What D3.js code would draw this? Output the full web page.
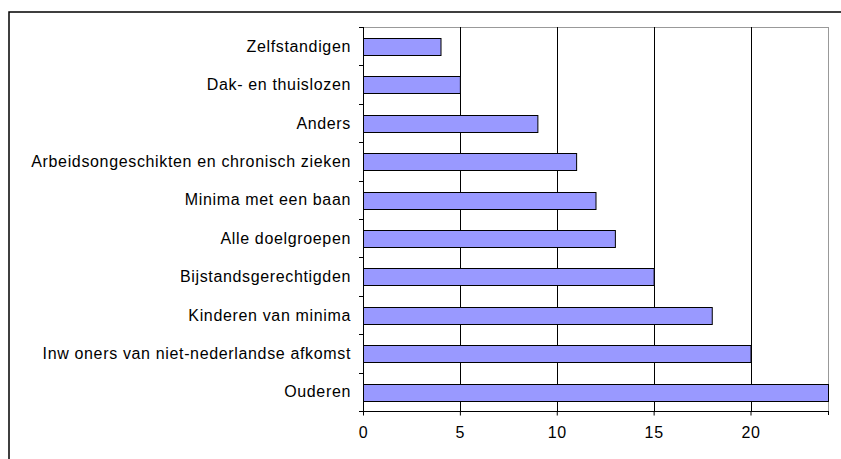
<!DOCTYPE html>
<html>
<head>
<meta charset="utf-8">
<script src="https://cdn.jsdelivr.net/npm/d3@7"></script>
<style>
  body { margin: 0; background: #fff; }
  text { font-family: Arial, "Liberation Sans", sans-serif; font-size: 16px; letter-spacing: 0.65px; fill: #000; }
</style>
</head>
<body>
<div id="chart"></div>
<script>
// categories top to bottom
var categories = ["Zelfstandigen", "Dak- en thuislozen", "Anders",
  "Arbeidsongeschikten en chronisch zieken", "Minima met een baan",
  "Alle doelgroepen", "Bijstandsgerechtigden", "Kinderen van minima",
  "Inw oners van niet-nederlandse afkomst", "Ouderen"];
var values = [4, 5, 9, 11, 12, 13, 15, 18, 20, 24];
var xTicks = [0, 5, 10, 15, 20];

var width = 841, height = 459;
var plotLeft = 363, plotRight = 828, plotTop = 27, plotBottom = 411;

var svg = d3.select("#chart").append("svg")
  .attr("width", width)
  .attr("height", height);

// outer frame, runs off the right and bottom edge
svg.append("rect")
  .attr("x", 9).attr("y", 12)
  .attr("width", 840).attr("height", 460)
  .attr("fill", "none").attr("stroke", "#000").attr("stroke-width", 1.5);

var x = d3.scaleLinear().domain([0, 24]).range([plotLeft, plotRight]);
var y = d3.scaleBand().domain(categories).range([plotTop, plotBottom]).paddingInner(0.57).paddingOuter(0.285);

// plot area border (gray)
svg.append("rect")
  .attr("x", plotLeft + 0.5).attr("y", plotTop + 0.5)
  .attr("width", plotRight - plotLeft).attr("height", plotBottom - plotTop)
  .attr("fill", "none").attr("stroke", "#999").attr("stroke-width", 1);

// vertical grid lines
svg.selectAll(".grid")
  .data(xTicks.slice(1))
  .enter().append("line")
  .attr("x1", function(d) { return Math.round(x(d)) + 0.5; })
  .attr("x2", function(d) { return Math.round(x(d)) + 0.5; })
  .attr("y1", plotTop).attr("y2", plotBottom)
  .attr("stroke", "#000").attr("stroke-width", 1);

// bars
svg.selectAll(".bar")
  .data(values)
  .enter().append("rect")
  .attr("x", x(0) + 0.5)
  .attr("y", function(d, i) { return Math.round(y(categories[i])) + 0.5; })
  .attr("width", function(d) { return x(d) - x(0); })
  .attr("height", Math.round(y.bandwidth()))
  .attr("fill", "#9999ff")
  .attr("stroke", "#000").attr("stroke-width", 1);

// y axis line and ticks at band boundaries
svg.append("line")
  .attr("x1", plotLeft + 0.5).attr("x2", plotLeft + 0.5)
  .attr("y1", plotTop).attr("y2", plotBottom)
  .attr("stroke", "#000");
var step = (plotBottom - plotTop) / categories.length;
svg.selectAll(".ytick")
  .data(d3.range(categories.length + 1))
  .enter().append("line")
  .attr("x1", plotLeft - 4).attr("x2", plotLeft)
  .attr("y1", function(i) { return Math.round(plotTop + i * step) + 0.5; })
  .attr("y2", function(i) { return Math.round(plotTop + i * step) + 0.5; })
  .attr("stroke", "#000");

svg.selectAll(".ylabel")
  .data(categories)
  .enter().append("text")
  .attr("x", 351)
  .attr("y", function(d) { return y(d) + y.bandwidth() / 2; })
  .attr("dy", "0.35em")
  .attr("text-anchor", "end")
  .text(function(d) { return d; });

// x axis
var xAxis = d3.axisBottom(x).tickValues(xTicks).tickSize(4).tickPadding(11).tickFormat(d3.format("d"));
var gx = svg.append("g")
  .attr("transform", "translate(0," + (plotBottom + 0.5) + ")")
  .call(xAxis);
gx.attr("font-size", null).attr("font-family", null);
gx.select(".domain").attr("d", "M" + (plotLeft - 4) + ",0H" + plotRight);
gx.selectAll("line").attr("stroke", "#000");
gx.selectAll("text").style("font-size", "16px");
svg.append("line")
  .attr("x1", plotRight + 0.5).attr("x2", plotRight + 0.5)
  .attr("y1", plotBottom).attr("y2", plotBottom + 4)
  .attr("stroke", "#000");
</script>
</body>
</html>
